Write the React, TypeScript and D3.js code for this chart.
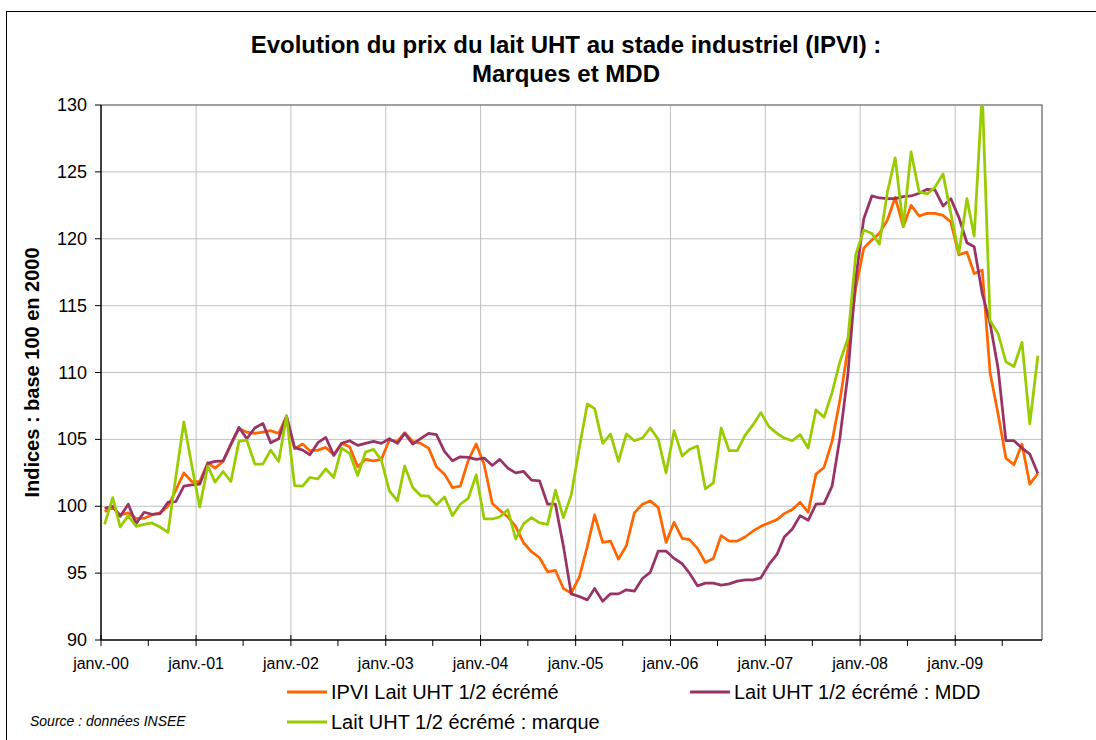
import React from "react";
import * as d3 from "d3";

// monthly values, janv. 2000 .. nov. 2009
const ipvi = [
  99.6, 99.9, 99.35, 99.5, 99.1, 99.1, 99.35, 99.5, 100.0, 101.2, 102.5, 101.85,
  101.85, 103.25, 102.85, 103.35, 104.6, 105.8, 105.55, 105.45, 105.55, 105.65, 105.45, 106.7,
  104.3, 104.65, 104.15, 104.2, 104.4, 103.85, 104.7, 104.45, 102.95, 103.5, 103.4, 103.5,
  104.95, 104.85, 105.5, 104.85, 104.7, 104.35, 102.95, 102.4, 101.4, 101.5, 103.45, 104.65,
  103.1, 100.2, 99.7, 99.2, 98.5, 97.25, 96.6, 96.15, 95.1, 95.2, 93.85, 93.5,
  94.7, 97.0, 99.35, 97.3, 97.4, 96.05, 97.05, 99.5, 100.15, 100.4, 99.9, 97.3,
  98.8, 97.6, 97.5, 96.85, 95.8, 96.1, 97.8, 97.4, 97.4, 97.7, 98.15, 98.5,
  98.75, 99.0, 99.45, 99.75, 100.3, 99.55, 102.4, 102.9, 104.85, 107.9, 111.8, 116.3,
  119.3, 119.9, 120.4, 121.4, 123.1, 120.9, 122.5, 121.7, 121.9, 121.9, 121.75, 121.25,
  118.8, 119.0, 117.4, 117.65, 110.0, 106.9, 103.6, 103.1, 104.65, 101.65, 102.45,
];

const mdd = [
  99.85, 100.0, 99.25, 100.15, 98.7, 99.55, 99.4, 99.45, 100.3, 100.35, 101.5, 101.6,
  101.65, 103.2, 103.35, 103.4, 104.65, 105.9, 105.05, 105.85, 106.2, 104.75, 105.05, 106.75,
  104.4, 104.2, 103.85, 104.75, 105.15, 103.8, 104.7, 104.9, 104.55, 104.7, 104.85, 104.7,
  105.05, 104.7, 105.45, 104.65, 105.05, 105.45, 105.35, 104.1, 103.4, 103.7, 103.65, 103.5,
  103.6, 103.05, 103.5, 102.85, 102.5, 102.6, 101.95, 101.9, 100.15, 100.15, 97.0, 93.45,
  93.25, 93.0, 93.85, 92.9, 93.45, 93.45, 93.75, 93.65, 94.6, 95.05, 96.65, 96.65,
  96.1, 95.7, 95.0, 94.05, 94.25, 94.25, 94.1, 94.2, 94.4, 94.5, 94.5, 94.65,
  95.65, 96.4, 97.7, 98.3, 99.3, 98.95, 100.15, 100.2, 101.5, 105.1, 109.9, 117.0,
  121.5, 123.2, 123.05, 123.0, 123.0, 123.15, 123.2, 123.4, 123.7, 123.65, 122.45, 123.0,
  121.6, 119.7, 119.4, 115.9, 113.7, 110.3, 104.9, 104.9, 104.35, 103.9, 102.45,
];

const marque = [
  98.65, 100.65, 98.45, 99.3, 98.5, 98.65, 98.75, 98.45, 98.05, 102.2, 106.3, 103.1,
  99.95, 103.0, 101.8, 102.6, 101.85, 104.85, 104.95, 103.15, 103.15, 104.2, 103.35, 106.75,
  101.55, 101.5, 102.15, 102.05, 102.8, 102.15, 104.35, 103.95, 102.3, 104.05, 104.25, 103.45,
  101.15, 100.4, 103.0, 101.4, 100.8, 100.75, 100.1, 100.7, 99.3, 100.15, 100.6, 102.35,
  99.05, 99.05, 99.2, 99.75, 97.55, 98.7, 99.15, 98.75, 98.65, 101.2, 99.15, 100.85,
  104.35, 107.65, 107.3, 104.7, 105.4, 103.35, 105.4, 104.9, 105.1, 105.85, 105.0, 102.5,
  105.65, 103.75, 104.25, 104.5, 101.3, 101.75, 105.85, 104.15, 104.15, 105.3, 106.1, 107.0,
  105.95, 105.45, 105.1, 104.9, 105.35, 104.35, 107.2, 106.65, 108.5, 110.8, 112.55, 118.8,
  120.65, 120.4, 119.6, 123.5, 126.05, 120.95, 126.5, 123.5, 123.35, 123.85, 124.85, 121.9,
  118.9, 123.0, 120.2, 131.0, 113.9, 112.9, 110.8, 110.45, 112.25, 106.15, 111.25,
];

const yTicks = [90, 95, 100, 105, 110, 115, 120, 125, 130];
const years = ["00", "01", "02", "03", "04", "05", "06", "07", "08", "09"];

const series = [
  { name: "IPVI Lait UHT 1/2 écrémé", values: ipvi, color: "#FF6600" },
  { name: "Lait UHT 1/2 écrémé : MDD", values: mdd, color: "#993366" },
  { name: "Lait UHT 1/2 écrémé : marque", values: marque, color: "#99CC00" },
];

const W = 1096;
const H = 740;
const left = 101;
const right = 1042;
const top = 105;
const bottom = 640;
const font = "'Liberation Sans', Arial, sans-serif";

export default function App() {
  const x = d3
    .scaleTime()
    .domain([new Date(2000, 0, 1), new Date(2009, 11, 1)])
    .range([left, right]);
  const y = d3.scaleLinear().domain([90, 130]).range([bottom, top]);

  const line = d3
    .line<number>()
    .x((_, i) => x(new Date(2000, i, 15)))
    .y((d) => y(d));

  const majors = years.map((_, k) => new Date(2000 + k, 0, 1));
  const minors = years.map((_, k) => new Date(2000 + k, 6, 1));

  return (
    <svg
      width={W}
      height={H}
      style={{ position: "absolute", left: 0, top: 0, background: "#fff" }}
      fontFamily={font}
    >
      <defs>
        <clipPath id="plot">
          <rect x={left} y={top} width={right - left} height={bottom - top} />
        </clipPath>
      </defs>
      {/* outer frame (cropped at right/bottom) */}
      <rect x={6.5} y={11.5} width={W + 10} height={H + 10} fill="#fff" stroke="#000" strokeWidth={1} />

      <text x={566} y={53} textAnchor="middle" fontSize={24} fontWeight="bold">
        Evolution du prix du lait UHT au stade industriel (IPVI) :
      </text>
      <text x={566} y={82} textAnchor="middle" fontSize={24} fontWeight="bold">
        Marques et MDD
      </text>

      {/* grid */}
      {yTicks.slice(1, -1).map((t) => (
        <line key={t} x1={left} x2={right} y1={y(t)} y2={y(t)} stroke="#C0C0C0" strokeWidth={1} />
      ))}
      {majors.slice(1).map((d, k) => (
        <line key={k} x1={x(d)} x2={x(d)} y1={top} y2={bottom} stroke="#C0C0C0" strokeWidth={1} />
      ))}
      <path
        d={`M${left},${top}H${right}V${bottom}`}
        fill="none"
        stroke="#808080"
        strokeWidth={1.5}
      />

      {/* series */}
      <g clipPath="url(#plot)">
        {series.map((s) => (
          <path
            key={s.name}
            d={line(s.values) || ""}
            fill="none"
            stroke={s.color}
            strokeWidth={2.75}
            strokeLinejoin="round"
          />
        ))}
      </g>

      {/* y axis */}
      <line x1={left} x2={left} y1={top} y2={bottom} stroke="#000" strokeWidth={1.5} />
      {yTicks.map((t) => (
        <g key={t}>
          <line x1={left - 6} x2={left} y1={y(t)} y2={y(t)} stroke="#000" strokeWidth={1} />
          <text x={left - 14} y={y(t) + 6} textAnchor="end" fontSize={18}>
            {t}
          </text>
        </g>
      ))}
      <text
        transform={`translate(39,${(top + bottom) / 2}) rotate(-90)`}
        textAnchor="middle"
        fontSize={20}
        fontWeight="bold"
      >
        Indices : base 100 en 2000
      </text>

      {/* x axis */}
      <line x1={left} x2={right} y1={bottom} y2={bottom} stroke="#000" strokeWidth={1.5} />
      {majors.map((d, k) => (
        <g key={k}>
          <line x1={x(d)} x2={x(d)} y1={bottom - 5} y2={bottom + 6} stroke="#000" strokeWidth={1} />
          <text x={x(d)} y={bottom + 29} textAnchor="middle" fontSize={16}>
            {`janv.-${years[k]}`}
          </text>
        </g>
      ))}
      {minors.map((d, k) => (
        <line key={k} x1={x(d)} x2={x(d)} y1={bottom} y2={bottom + 6} stroke="#000" strokeWidth={1} />
      ))}

      {/* legend */}
      {series.map((s, k) => {
        const lx = k === 1 ? 690 : 287;
        const ly = k === 2 ? 722 : 692;
        return (
          <g key={s.name}>
            <line x1={lx} x2={lx + 40} y1={ly} y2={ly} stroke={s.color} strokeWidth={3} />
            <text x={lx + 44} y={ly + 7} fontSize={20}>
              {s.name}
            </text>
          </g>
        );
      })}
      <text x={30} y={726} fontSize={14} fontStyle="italic">
        Source : données INSEE
      </text>
    </svg>
  );
}
